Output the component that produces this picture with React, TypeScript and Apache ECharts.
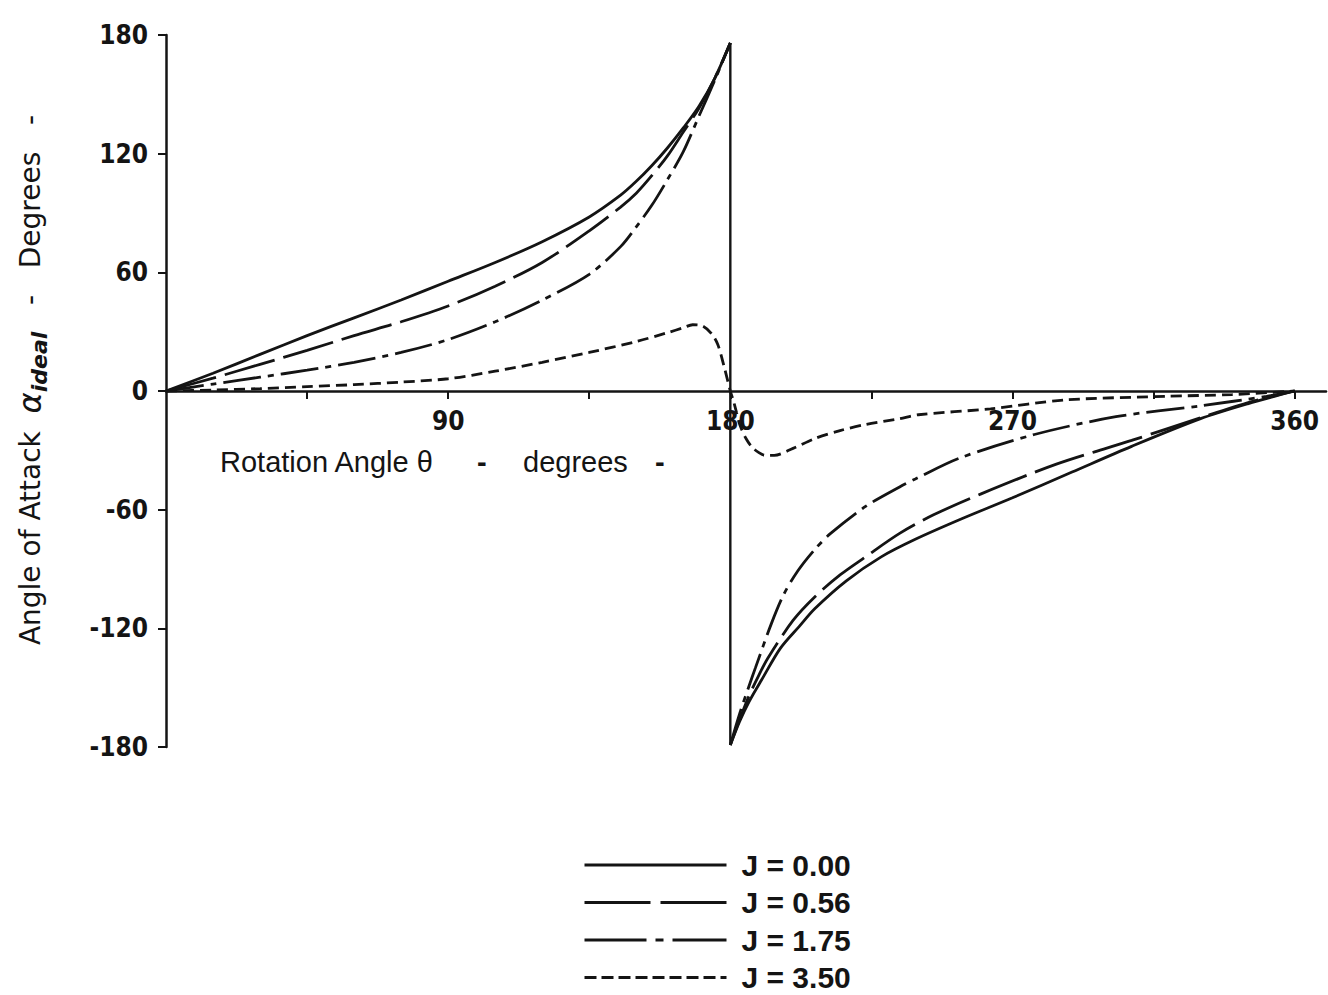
import React, { useEffect, useRef } from "react";
import * as echarts from "echarts";

const INK = "#141414";
const NUM_FONT = "'Liberation Sans Narrow', 'DejaVu Sans Condensed', 'Liberation Sans', sans-serif";
const TXT_FONT = "'DejaVu Sans', 'Liberation Sans', sans-serif";

// Rotation angle θ (deg) and ideal angle of attack (deg) per advance ratio J.
// A null marks the jump at θ = 180° where the curve flips sign.
const j000Theta = [0, 15, 30, 45, 60, 75, 90, 105, 120, 135, 145, 150, 155, 160, 165, 170, 175, 180,
  180, 180, 183, 186, 190, 196, 202, 207, 217, 228, 239, 254, 270, 289, 308, 330, 345, 360];
const j000Alpha = [0, 9, 18.5, 28, 37, 46, 55.5, 65, 75.5, 88, 99, 106, 114, 123, 133, 144, 158, 176,
  null, -179, -167, -157, -146, -130, -119, -110, -96, -84, -75, -64.5, -54, -41, -28, -14, -6.5, 0];

const j056Theta = [0, 15, 30, 45, 60, 75, 90, 105, 120, 135, 145, 150, 155, 160, 165, 170, 175, 180,
  180, 180, 183, 186, 189, 192, 200, 207, 215, 223, 234, 245, 260, 284, 308, 330, 346, 360];
const j056Alpha = [0, 6.5, 13.5, 20.5, 28, 35, 43, 53, 65, 81, 93, 100, 109, 119, 131, 143, 158, 176,
  null, -179, -166, -154, -144, -135, -116, -104, -93, -84, -72, -62.5, -52, -37, -25, -13.5, -5.5, 0];

const j175Theta = [0, 15, 30, 45, 60, 75, 90, 105, 120, 135, 145, 150, 155, 160, 165, 170, 175, 180,
  180, 180, 183, 186, 188, 193, 197, 201.5, 207, 212, 223, 234, 239, 253, 277, 303, 330, 351, 360];
const j175Alpha = [0, 3.5, 7, 10.5, 14.5, 19.5, 26, 35, 46, 59, 73, 83, 94, 107, 121, 139, 157, 176,
  null, -179, -163, -149, -140, -118, -103, -91, -80, -72, -58.5, -48.5, -44.5, -34, -22, -13, -7.5, -2.7, 0];

const j350Theta = [0, 15, 30, 45, 60, 75, 90, 105, 120, 135, 150, 160, 165, 168, 171, 174, 176, 178, 180,
  181, 182, 183, 185, 187, 189, 191, 194, 200, 207, 215, 223, 234, 240, 263, 287, 319, 340, 360];
const j350Alpha = [0, 0.5, 1.2, 2.2, 3.2, 4.5, 6.2, 10, 14.5, 19.5, 25, 29.5, 32, 33.5, 33, 29, 23.5, 12.5, 0,
  -5, -11, -17, -24, -28.5, -31, -32.5, -32.5, -29, -24, -20, -17, -14, -12, -9, -4.5, -2.7, -1.8, 0];

// Vertical jump line at θ = 180°
const jumpTheta = [180, 180];
const jumpAlpha = [176, -179];

const seriesNames = ["J = 0.00", "J = 0.56", "J = 1.75", "J = 3.50"];
const xLabelValues = [90, 180, 270, 360];
const xTickValues = [45, 90, 135, 180, 225, 270, 315, 360];

const pairs = (t: number[], a: (number | null)[]) => t.map((v, i) => [v, a[i]]);

const GRID_TOP = 35;
const GRID_BOTTOM = 248;
const PAGE_H = 995;

export default function App() {
  const ref = useRef<HTMLDivElement>(null);

  useEffect(() => {
    if (!ref.current) return;
    const chart = echarts.init(ref.current, undefined, { renderer: "svg" });

    const lineSeries = (name: string, data: any[], type: any) => ({
      name,
      type: "line",
      data,
      symbol: "none",
      showSymbol: false,
      smooth: 0.3,
      connectNulls: false,
      lineStyle: { color: INK, width: 2.8, type, cap: "butt" },
      itemStyle: { color: INK },
      z: 3,
    });

    // the x axis sits on α = 0: lift it from the grid bottom by half the plot height
    const plotH = PAGE_H - GRID_TOP - GRID_BOTTOM;

    chart.setOption({
      animation: false,
      backgroundColor: "#ffffff",
      grid: { left: 166, right: 2, top: GRID_TOP, bottom: GRID_BOTTOM, containLabel: false },
      xAxis: {
        type: "value",
        min: 0,
        max: 370,
        interval: 45,
        offset: -plotH / 2,
        axisLine: { onZero: false, lineStyle: { color: INK, width: 2.5 } },
        axisTick: { show: true, length: 8, inside: false, customValues: xTickValues, lineStyle: { color: INK, width: 2 } },
        axisLabel: {
          customValues: xLabelValues,
          margin: 17,
          color: INK,
          fontSize: 26,
          fontWeight: "bold",
          fontFamily: NUM_FONT,
        },
        splitLine: { show: false },
      },
      yAxis: {
        type: "value",
        min: -180,
        max: 180,
        interval: 60,
        axisLine: { show: true, onZero: false, lineStyle: { color: INK, width: 2.5 } },
        axisTick: { show: true, length: 8, inside: false, lineStyle: { color: INK, width: 2 } },
        axisLabel: { margin: 18, color: INK, fontSize: 26, fontWeight: "bold", fontFamily: NUM_FONT },
        splitLine: { show: false },
      },
      legend: {
        orient: "vertical",
        left: 583,
        top: 850,
        padding: 0,
        itemWidth: 142,
        itemHeight: 14,
        itemGap: 7.5,
        selectedMode: false,
        itemStyle: { opacity: 0, borderWidth: 0 },
        textStyle: {
          color: INK,
          fontSize: 30,
          fontWeight: "bold",
          fontFamily: "'Liberation Sans', sans-serif",
          lineHeight: 30,
          padding: [0, 0, 0, 10],
        },
        data: [
          { name: seriesNames[0], lineStyle: { type: "solid", width: 3 } },
          { name: seriesNames[1], lineStyle: { type: [66, 10], width: 3 } },
          { name: seriesNames[2], lineStyle: { type: [62, 9, 8, 9], width: 3 } },
          { name: seriesNames[3], lineStyle: { type: [12, 5], width: 3 } },
        ],
      },
      graphic: [
        {
          type: "text",
          x: 30,
          y: 380,
          rotation: Math.PI / 2,
          style: {
            text: "{t|Angle of Attack}{t|  }{al|α}{sub|ideal}{t|   -   Degrees   -}",
            textAlign: "center",
            textVerticalAlign: "middle",
            fill: INK,
            rich: {
              t: { fontSize: 28, fontFamily: TXT_FONT, fill: INK, color: INK, verticalAlign: "middle", lineHeight: 40 },
              al: { fontSize: 32, fontFamily: TXT_FONT, fontStyle: "italic", fill: INK, color: INK, verticalAlign: "middle", lineHeight: 40 },
              sub: { fontSize: 22, fontFamily: TXT_FONT, fontStyle: "italic", fontWeight: "bold", fill: INK, color: INK, verticalAlign: "bottom", lineHeight: 22 },
            },
          },
        },
        {
          type: "group",
          children: [
            { type: "text", x: 220, y: 462, style: { text: "Rotation Angle θ", font: "29px 'Liberation Sans', sans-serif", fill: INK, textVerticalAlign: "middle" } },
            { type: "text", x: 477, y: 462, style: { text: "-", font: "bold 29px 'Liberation Sans', sans-serif", fill: INK, textVerticalAlign: "middle" } },
            { type: "text", x: 523, y: 462, style: { text: "degrees", font: "29px 'Liberation Sans', sans-serif", fill: INK, textVerticalAlign: "middle" } },
            { type: "text", x: 655, y: 462, style: { text: "-", font: "bold 29px 'Liberation Sans', sans-serif", fill: INK, textVerticalAlign: "middle" } },
          ],
        },
      ],
      series: [
        lineSeries(seriesNames[0], pairs(j000Theta, j000Alpha), "solid"),
        lineSeries(seriesNames[1], pairs(j056Theta, j056Alpha), [52, 9]),
        lineSeries(seriesNames[2], pairs(j175Theta, j175Alpha), [38, 7, 6, 7]),
        lineSeries(seriesNames[3], pairs(j350Theta, j350Alpha), [11, 6]),
        {
          name: "jump",
          type: "line",
          data: pairs(jumpTheta, jumpAlpha),
          symbol: "none",
          lineStyle: { color: INK, width: 2.4, type: "solid" },
          z: 2,
        },
      ],
    });

    return () => chart.dispose();
  }, []);

  return (
    <div
      ref={ref}
      style={{ position: "fixed", left: 0, top: 0, width: 1328, height: 995, background: "#ffffff" }}
    />
  );
}
